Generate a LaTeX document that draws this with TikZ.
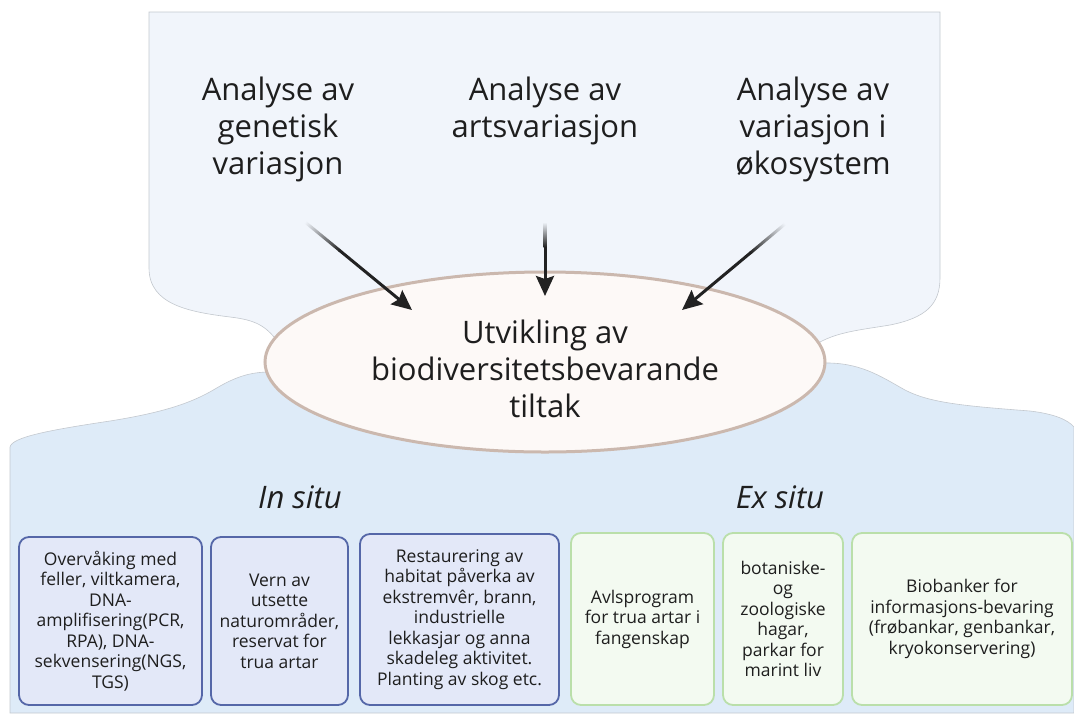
\documentclass[tikz,border=0pt]{standalone}
\usepackage{fontspec}
\setmainfont{Open Sans}
\usetikzlibrary{arrows.meta,calc,shapes.geometric}
\definecolor{topbg}{HTML}{F1F5FB}
\definecolor{botbg}{HTML}{DEEBF8}
\definecolor{regionline}{HTML}{C3C8CE}
\definecolor{ellfill}{HTML}{FDF9F7}
\definecolor{elldraw}{HTML}{CBB8AE}
\definecolor{inblue}{HTML}{5567A8}
\definecolor{infill}{HTML}{E3E8F8}
\definecolor{exgreen}{HTML}{BADFAA}
\definecolor{exfill}{HTML}{F3FAF1}
\definecolor{txt}{HTML}{1E1E1E}
\definecolor{arrowc}{HTML}{222222}
\tikzset{
  region/.style={draw=regionline, line width=0.6pt},
  bigtext/.style={font=\fontsize{31}{37}\selectfont, text=txt, align=center, inner sep=0pt},
  boxtext/.style={font=\fontsize{17.5}{20.5}\selectfont, text=txt, align=center, inner sep=0pt},
  insitubox/.style={boxtext, draw=inblue, fill=infill, line width=1.8pt, rounded corners=10pt},
  exsitubox/.style={boxtext, draw=exgreen, fill=exfill, line width=1.8pt, rounded corners=10pt},
  arr/.style={draw=arrowc, line width=3pt, -{Stealth[length=20pt,width=18pt,inset=3pt]}},
}
\begin{document}
\begin{tikzpicture}[x=1pt,y=-1pt]
\useasboundingbox (0,0) rectangle (1074,713);
% upper region
\path[region, fill=topbg] (149,12) -- (940,12) -- (940,278)
  .. controls (940,305) and (925,318) .. (890,325)
  .. controls (860,330) and (835,332) .. (815,345)
  -- (545,362) -- (278,342)
  .. controls (266,326) and (256,320) .. (230,317)
  .. controls (190,312) and (149,305) .. (149,268) -- cycle;
% lower region
\path[region, fill=botbg] (10,713) -- (10,447)
  .. controls (12,437) and (50,430) .. (110,421)
  .. controls (160,413) and (190,404) .. (215,389)
  .. controls (235,377) and (250,372) .. (270,372)
  -- (545,362) -- (822,363)
  .. controls (860,362) and (880,376) .. (905,390)
  .. controls (930,403) and (965,406) .. (1030,411)
  .. controls (1055,414) and (1068,420) .. (1074,427)
  -- (1074,713) -- cycle;
% central ellipse
\node[ellipse, draw=elldraw, fill=ellfill, line width=3pt,
      minimum width=560pt, minimum height=180pt, inner sep=0pt] (ell) at (545,362) {};
\node[bigtext] (elltxt) at (545,369) {Utvikling av\\biodiversitetsbevarande\\tiltak};
% analysis texts
\node[bigtext, anchor=north] (a1) at (278,77) {Analyse av\\genetisk\\variasjon};
\node[bigtext, anchor=north] (a2) at (545,77) {Analyse av\\artsvariasjon};
\node[bigtext, anchor=north] (a3) at (813,77) {Analyse av\\variasjon i\\økosystem};
% arrows
\coordinate (s1) at (305,222); \coordinate (t1) at (412,310);
\coordinate (s2) at (545,222); \coordinate (t2) at (545,296);
\coordinate (s3) at (785,224); \coordinate (t3) at (682,310);
\draw[arr, shorten <=44pt] (s1) -- (t1);
\draw[arr, shorten <=24pt] (s2) -- (t2);
\draw[arr, shorten <=44pt] (s3) -- (t3);
\begin{scope}[transform canvas={shift={(s1)}, rotate=-39.4}]
  \shade[left color=topbg, right color=arrowc] (0,-1.5) rectangle (45,1.5);
\end{scope}
\begin{scope}[transform canvas={shift={(s2)}, rotate=-90}]
  \shade[left color=topbg, right color=arrowc] (0,-1.5) rectangle (25,1.5);
\end{scope}
\begin{scope}[transform canvas={shift={(s3)}, rotate=-140.1}]
  \shade[left color=topbg, right color=arrowc] (0,-1.5) rectangle (45,1.5);
\end{scope}
% section titles
\node[bigtext, font=\fontsize{31}{37}\selectfont\itshape] (ins) at (300,497) {In situ};
\node[bigtext, font=\fontsize{31}{37}\selectfont\itshape] (exs) at (780,497) {Ex situ};
% in situ boxes
\node[insitubox, minimum width=183pt, minimum height=168pt] (b1) at (110.5,621)
  {Overvåking med\\feller, viltkamera,\\DNA-\\amplifisering(PCR,\\RPA), DNA-\\sekvensering(NGS,\\TGS)};
\node[insitubox, minimum width=137pt, minimum height=168pt] (b2) at (279.5,621)
  {Vern av\\utsette\\naturområder,\\reservat for\\trua artar};
\node[insitubox, minimum width=199pt, minimum height=171pt] (b3) at (459.5,619.5)
  {Restaurering av\\habitat påverka av\\ekstremvêr, brann,\\industrielle\\lekkasjar og anna\\skadeleg aktivitet.\\Planting av skog etc.};
% ex situ boxes
\node[exsitubox, minimum width=143pt, minimum height=172pt] (e1) at (642.5,619)
  {Avlsprogram\\for trua artar i\\fangenskap};
\node[exsitubox, minimum width=120pt, minimum height=172pt] (e2) at (783,619)
  {botaniske-\\og\\zoologiske\\hagar,\\parkar for\\marint liv};
\node[exsitubox, minimum width=220pt, minimum height=172pt] (e3) at (962,619)
  {Biobanker for\\informasjons-bevaring\\(frøbankar, genbankar,\\kryokonservering)};
\end{tikzpicture}
\end{document}
